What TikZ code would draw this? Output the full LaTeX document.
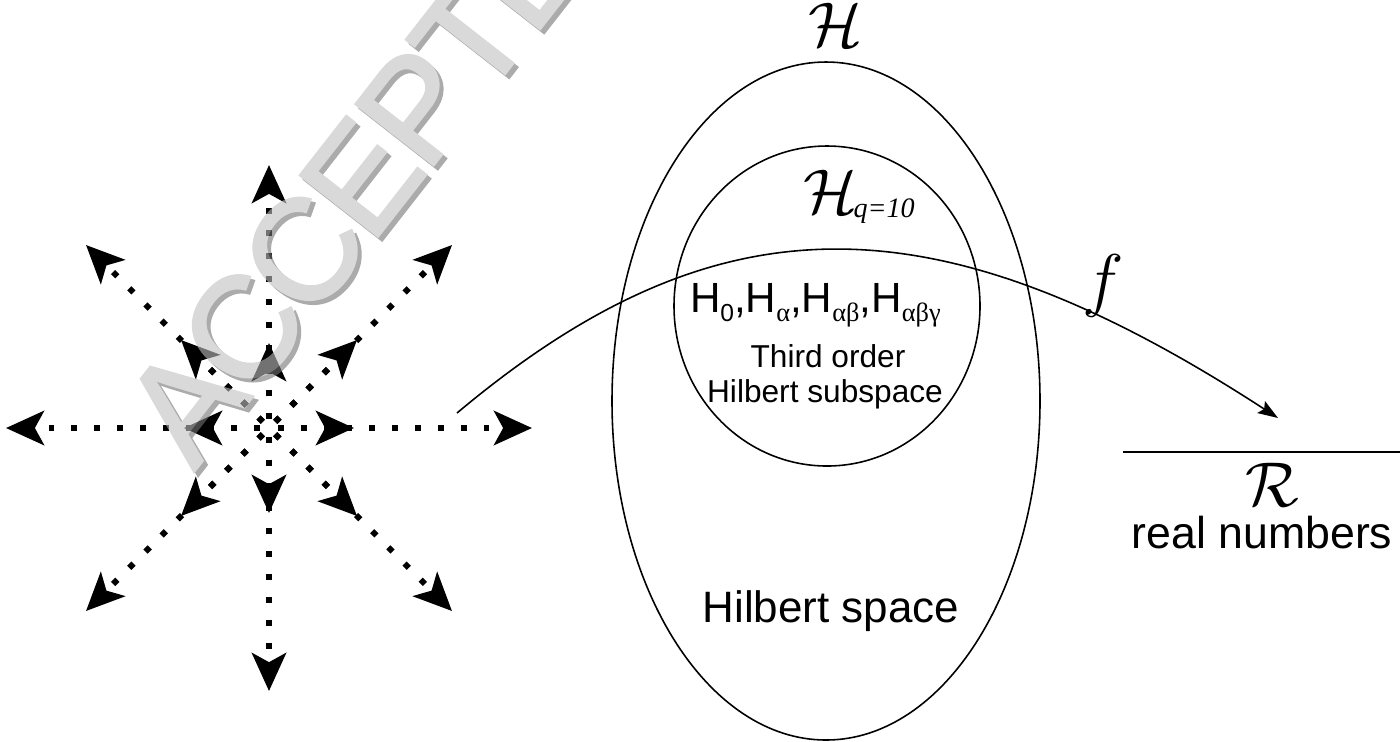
\documentclass[tikz,border=0pt]{standalone}
\usepackage{fix-cm}
\usepackage{fontspec}
\setmainfont{Liberation Sans}
\newfontfamily\serifgr{Liberation Serif}
\newfontfamily\wmfont[LetterSpace=-4, FakeBold=1.6]{Liberation Sans}
\usetikzlibrary{arrows.meta}
\newcommand\sbs[1]{\raisebox{-2.8pt}{\fontsize{7}{8}\selectfont #1}}
\newcommand\gsb[1]{\raisebox{-2.8pt}{\fontsize{7.5}{8}\selectfont\serifgr #1}}
\begin{document}
\begin{tikzpicture}[x=0.01cm,y=-0.01cm,
  thinline/.style={line width=0.45pt},
  ray/.style={line width=1.7pt, dash pattern=on 1.7pt off 4.8pt, dash phase=4pt,
    -{Stealth[length=10.8pt,width=9.7pt,inset=2.6pt]}},
  lbl/.style={inner sep=0pt, outer sep=0pt},
  wmark/.style={lbl, rotate=52, anchor=base west,
    font=\wmfont\fontsize{41}{41}\selectfont}]
\useasboundingbox (0,0) rectangle (1400,741);
\clip (0,0) rectangle (1400,741);

% starburst
\coordinate (c) at (269,428);
\coordinate (oE) at (532,428);
\coordinate (oW) at (6,428);
\coordinate (oN) at (269,165);
\coordinate (oS) at (269,691);
\coordinate (oNE) at (452,245);
\coordinate (oNW) at (86,245);
\coordinate (oSE) at (452,611);
\coordinate (oSW) at (86,611);
\coordinate (iE) at (354,428);
\coordinate (iW) at (184,428);
\coordinate (iN) at (269,343);
\coordinate (iS) at (269,513);
\coordinate (iNE) at (357,340);
\coordinate (iNW) at (181,340);
\coordinate (iSE) at (357,516);
\coordinate (iSW) at (181,516);
\foreach \t in {oE,oW,oN,oS,oNE,oNW,oSE,oSW,iE,iW,iN,iS,iNE,iNW,iSE,iSW}
  \draw[ray] (c) -- (\t);

% Hilbert space ellipse and subspace
\draw[thinline] (826,401) ellipse [x radius=214, y radius=339];
\draw[thinline] (827,306) ellipse [x radius=153, y radius=160];

% mapping f
\coordinate (fs) at (457,413);
\coordinate (fe) at (1278,418);
\draw[thinline, -{Stealth[length=5.7pt,width=4pt,inset=1pt]}]
  (fs) .. controls (717,195) and (935,195) .. (fe);

% real line
\coordinate (rl) at (1123,452);
\coordinate (rr) at (1400,452);
\draw[thinline] (rl) -- (rr);

% labels
\node[lbl, anchor=base] (Htop) at (836,46) {\fontsize{18}{20}\selectfont$\mathcal{H}$};
\node[lbl, anchor=base west] (Hq) at (803,213)
  {\fontsize{18}{20}\selectfont$\mathcal{H}$\kern-1pt\raisebox{-1.2pt}{\fontsize{8}{9}\selectfont\serifgr\itshape q=10}};
\node[lbl, anchor=base west] (hlist) at (690,312)
  {\fontsize{12}{14}\selectfont H\sbs{0},H\gsb{α},H\gsb{αβ},H\gsb{αβγ}};
\node[lbl, anchor=base] (third) at (828,367) {\fontsize{9}{10}\selectfont Third order};
\node[lbl, anchor=base] (subsp) at (825,402) {\fontsize{9}{10}\selectfont Hilbert subspace};
\node[lbl, anchor=base] (hspace) at (831,622) {\fontsize{12.5}{14}\selectfont Hilbert space};
\node[lbl] (flbl) at (1103,286) {\fontsize{20}{22}\selectfont$f$};
\node[lbl, anchor=base] (Rlbl) at (1272,506) {\fontsize{18}{20}\selectfont$\mathcal{R}$};
\node[lbl, anchor=base] (real) at (1262,548) {\fontsize{12.7}{14}\selectfont real numbers};

% watermark (embossed grey text, partly transparent)
\begin{scope}[transparency group, opacity=0.6]
  \node[wmark, text=black!55] (wmshadow) at (198,476) {ACCEPTED};
  \node[wmark, text=black!25] (wm) at (194,472) {ACCEPTED};
\end{scope}
\end{tikzpicture}
\end{document}
